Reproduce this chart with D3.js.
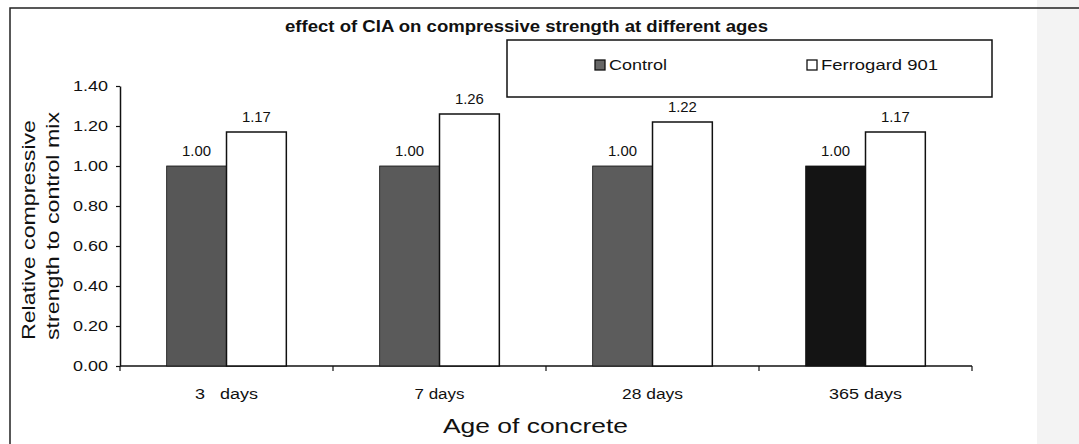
<!DOCTYPE html>
<html>
<head>
<meta charset="utf-8">
<script src="https://cdn.jsdelivr.net/npm/d3@7"></script>
<style>
  body { margin: 0; background: #fff; }
  svg { display: block; font-family: "Liberation Sans", Arial, sans-serif; }
</style>
</head>
<body>
<svg id="chart" width="1079" height="444"></svg>
<script>
const ages = ["3   days", "7 days", "28 days", "365 days"];
const seriesNames = ["Control", "Ferrogard 901"];
const control = [1.00, 1.00, 1.00, 1.00];
const ferrogard = [1.17, 1.26, 1.22, 1.17];
const yTicks = [0, 0.2, 0.4, 0.6, 0.8, 1.0, 1.2, 1.4];

const controlFill = ["#575757", "#5a5a5a", "#5c5c5c", "#141414"];
// widths the scanned text occupies (stretched glyphs)
const ageLabelLen = [63, 50, 61, 73];
const legendLen = [58, 117];

const svg = d3.select("#chart");

// scan strip at the right edge
svg.append("rect").attr("x", 1037).attr("y", 0).attr("width", 42).attr("height", 444)
  .attr("fill", "#f3f3f3");

// outer chart frame (top + left visible)
svg.append("path").attr("d", "M10,444 V8 H1079")
  .attr("fill", "none").attr("stroke", "#222").attr("stroke-width", 1.5);

const x = d3.scaleBand().domain(ages).range([120, 972]);
const inner = d3.scaleBand().domain(seriesNames).range([0, x.bandwidth()])
  .paddingInner(0).paddingOuter(0.78);
const y = d3.scaleLinear().domain([0, 1.4]).range([366, 86]);

// axes
const yAxis = svg.append("g").attr("transform", "translate(120,0)")
  .call(d3.axisLeft(y).tickValues(yTicks).tickFormat(d3.format(".2f")).tickSize(4).tickSizeOuter(0));
yAxis.select(".domain").attr("stroke", "#111").attr("stroke-width", 1.5);
yAxis.selectAll(".tick line").attr("stroke", "#111").attr("stroke-width", 1.2);
yAxis.selectAll(".tick text")
  .attr("font-size", 14).attr("fill", "#111").attr("x", -12).attr("dy", "0.35em")
  .attr("textLength", 35).attr("lengthAdjust", "spacingAndGlyphs");

const xAxis = svg.append("g").attr("transform", "translate(0,366)");
xAxis.append("line").attr("x1", 120).attr("x2", 972).attr("stroke", "#111").attr("stroke-width", 1.5);
xAxis.selectAll("line.tk")
  .data(ages.map(a => x(a)).concat([972]))
  .join("line").attr("class", "tk")
  .attr("x1", d => d).attr("x2", d => d).attr("y1", 0).attr("y2", 5)
  .attr("stroke", "#111").attr("stroke-width", 1.2);
xAxis.selectAll("text")
  .data(ages)
  .join("text")
  .attr("x", d => x(d) + x.bandwidth() / 2)
  .attr("y", 33)
  .attr("text-anchor", "middle")
  .attr("font-size", 14)
  .attr("fill", "#111")
  .attr("textLength", (d, i) => ageLabelLen[i]).attr("lengthAdjust", "spacingAndGlyphs")
  .style("white-space", "pre")
  .text(d => d);

// bars
const groups = svg.append("g").selectAll("g")
  .data(ages.map((a, i) => ({ age: a, i, vals: [control[i], ferrogard[i]] })))
  .join("g")
  .attr("transform", d => `translate(${x(d.age)},0)`);

groups.selectAll("rect")
  .data(d => d.vals.map((v, j) => ({ v, j, i: d.i })))
  .join("rect")
  .attr("x", d => inner(seriesNames[d.j]))
  .attr("width", inner.bandwidth())
  .attr("y", d => y(d.v))
  .attr("height", d => y(0) - y(d.v))
  .attr("fill", d => d.j === 0 ? controlFill[d.i] : "#fff")
  .attr("stroke", "#111")
  .attr("stroke-width", d => d.j === 0 ? 0.8 : 1.5);

groups.selectAll("text")
  .data(d => d.vals.map((v, j) => ({ v, j })))
  .join("text")
  .attr("x", d => inner(seriesNames[d.j]) + inner.bandwidth() / 2)
  .attr("y", d => y(d.v) - 10)
  .attr("text-anchor", "middle")
  .attr("font-size", 14)
  .attr("fill", "#111")
  .attr("textLength", 29).attr("lengthAdjust", "spacingAndGlyphs")
  .text(d => d3.format(".2f")(d.v));

// title
svg.append("text").attr("x", 285).attr("y", 32)
  .attr("font-size", 16).attr("font-weight", "bold").attr("fill", "#111")
  .attr("textLength", 483).attr("lengthAdjust", "spacingAndGlyphs")
  .text("effect of CIA on compressive strength at different ages");

// legend
svg.append("rect").attr("x", 507).attr("y", 40).attr("width", 485).attr("height", 57)
  .attr("fill", "#fff").attr("stroke", "#111").attr("stroke-width", 1.5);
const legendX = [595, 807];
const leg = svg.append("g").selectAll("g").data(seriesNames).join("g")
  .attr("transform", (d, i) => `translate(${legendX[i]},65)`);
leg.append("rect").attr("x", 0).attr("y", -5).attr("width", 10).attr("height", 10)
  .attr("fill", (d, i) => i === 0 ? "#666" : "#fff").attr("stroke", "#111").attr("stroke-width", 1.3);
leg.append("text").attr("x", 14).attr("y", 0).attr("dy", "0.35em")
  .attr("font-size", 14).attr("fill", "#111")
  .attr("textLength", (d, i) => legendLen[i]).attr("lengthAdjust", "spacingAndGlyphs")
  .text(d => d);

// axis titles
svg.append("text").attr("transform", "translate(35,230) rotate(-90)")
  .attr("text-anchor", "middle").attr("font-size", 18).attr("fill", "#111")
  .attr("textLength", 220).attr("lengthAdjust", "spacingAndGlyphs")
  .text("Relative compressive");
svg.append("text").attr("transform", "translate(59,226) rotate(-90)")
  .attr("text-anchor", "middle").attr("font-size", 18).attr("fill", "#111")
  .attr("textLength", 228).attr("lengthAdjust", "spacingAndGlyphs")
  .text("strength to control mix");
svg.append("text").attr("x", 443).attr("y", 433).attr("font-size", 21).attr("fill", "#111")
  .attr("textLength", 185).attr("lengthAdjust", "spacingAndGlyphs")
  .text("Age of concrete");
</script>
</body>
</html>
